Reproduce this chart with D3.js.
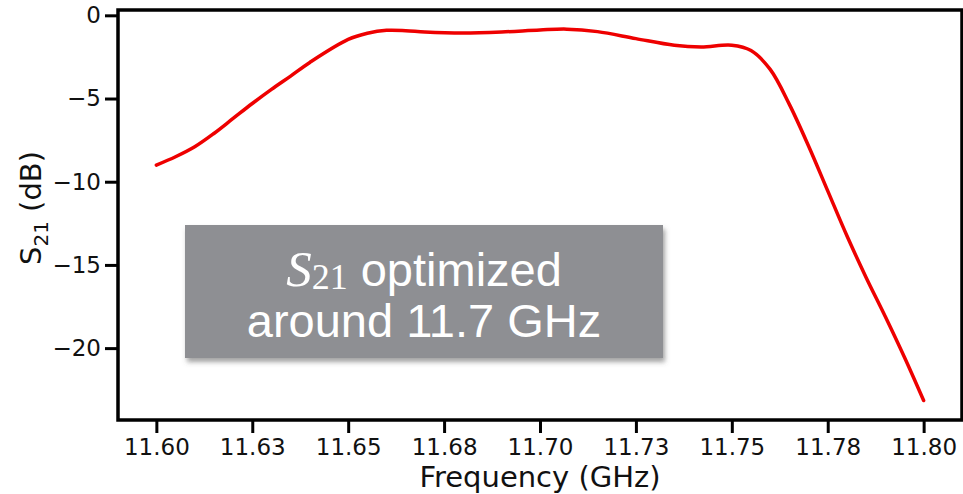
<!DOCTYPE html>
<html>
<head>
<meta charset="utf-8">
<script src="https://cdn.jsdelivr.net/npm/d3@7"></script>
<style>
  body { margin: 0; background: #fff; }
</style>
</head>
<body>
<div id="my_dataviz"></div>
<script>
// data
var freq = [11.600, 11.605, 11.610, 11.615, 11.620, 11.625, 11.630, 11.635, 11.640, 11.650,
            11.655, 11.660, 11.665, 11.670, 11.680, 11.690, 11.700, 11.707, 11.715, 11.725,
            11.735, 11.742, 11.750, 11.755, 11.760, 11.765, 11.770, 11.775, 11.780, 11.785,
            11.790, 11.795, 11.800];
var s21 = [-9.0, -8.5, -7.9, -7.1, -6.2, -5.3, -4.45, -3.65, -2.83, -1.45,
           -1.08, -0.9, -0.92, -1.0, -1.06, -1.0, -0.88, -0.83, -0.98, -1.4,
           -1.8, -1.9, -1.8, -2.12, -3.25, -5.35, -7.85, -10.55, -13.25, -15.75,
           -18.1, -20.55, -23.15];

var xTicks = [11.600, 11.625, 11.650, 11.675, 11.700, 11.725, 11.750, 11.775, 11.800];
var xTickLabels = ["11.60", "11.63", "11.65", "11.68", "11.70", "11.73", "11.75", "11.78", "11.80"];
var yTicks = [0, -5, -10, -15, -20];
var yTickLabels = ["0", "\u22125", "\u221210", "\u221215", "\u221220"];

// set the dimensions and margins of the graph
var margin = {top: 10, right: 1, bottom: 74, left: 118},
    width = 963 - margin.left - margin.right,
    height = 494 - margin.top - margin.bottom;

var svg = d3.select("#my_dataviz")
  .append("svg")
    .attr("width", 963)
    .attr("height", 494)
  .append("g")
    .attr("transform", "translate(" + margin.left + "," + margin.top + ")");

var defs = svg.append("defs");
var shadow = defs.append("filter")
    .attr("id", "shadow")
    .attr("x", "-10%").attr("y", "-10%")
    .attr("width", "130%").attr("height", "140%");
shadow.append("feDropShadow")
    .attr("dx", 2).attr("dy", 4)
    .attr("stdDeviation", 2.5)
    .attr("flood-color", "#555")
    .attr("flood-opacity", 0.55);

// X axis
var x = d3.scaleLinear()
  .domain([11.59, 11.81])
  .range([0, width]);
var xAxis = svg.append("g")
  .attr("transform", "translate(0," + height + ")")
  .call(d3.axisBottom(x)
    .tickValues(xTicks)
    .tickFormat(function(d, i) { return xTickLabels[i]; })
    .tickSize(13)
    .tickPadding(6));

// Y axis
var y = d3.scaleLinear()
  .domain([-24.32, 0.32])
  .range([height, 0]);
var yAxis = svg.append("g")
  .call(d3.axisLeft(y)
    .tickValues(yTicks)
    .tickFormat(function(d, i) { return yTickLabels[i]; })
    .tickSize(13)
    .tickPadding(4));

[xAxis, yAxis].forEach(function(a) {
  a.select(".domain").remove();
  a.selectAll(".tick line").attr("stroke", "#000").attr("stroke-width", 3);
  a.selectAll(".tick text")
    .attr("fill", "#111")
    .style("font-family", "DejaVu Sans")
    .style("font-size", "23px");
});

// frame
svg.append("rect")
  .attr("x", 0)
  .attr("y", 0)
  .attr("width", width)
  .attr("height", height)
  .attr("fill", "none")
  .attr("stroke", "#000")
  .attr("stroke-width", 3.5);

// the curve
var points = freq.map(function(f, i) { return {f: f, v: s21[i]}; });
svg.append("path")
  .datum(points)
  .attr("fill", "none")
  .attr("stroke", "#ee0000")
  .attr("stroke-width", 3.5)
  .attr("stroke-linejoin", "round")
  .attr("stroke-linecap", "round")
  .attr("d", d3.line()
    .curve(d3.curveCatmullRom.alpha(0.5))
    .x(function(d) { return x(d.f); })
    .y(function(d) { return y(d.v); }));

// x label
svg.append("text")
  .attr("x", width / 2)
  .attr("y", height + 67)
  .attr("text-anchor", "middle")
  .style("font-family", "DejaVu Sans")
  .style("font-size", "29px")
  .attr("fill", "#111")
  .text("Frequency (GHz)");

// y label
var ylab = svg.append("text")
  .attr("transform", "translate(" + (41 - margin.left) + "," + (208 - margin.top) + ") rotate(-90)")
  .attr("text-anchor", "middle")
  .style("font-family", "DejaVu Sans")
  .style("font-size", "29px")
  .attr("fill", "#111");
ylab.append("tspan").text("S");
ylab.append("tspan").attr("dy", 7).style("font-size", "20px").text("21");
ylab.append("tspan").attr("dy", -7).text(" (dB)");

// annotation box
var bx = 185 - margin.left, by = 225 - margin.top;
svg.append("rect")
  .attr("x", bx)
  .attr("y", by)
  .attr("width", 478)
  .attr("height", 133)
  .attr("fill", "#8e8f93")
  .attr("filter", "url(#shadow)");

var line1 = svg.append("text")
  .attr("x", bx + 239)
  .attr("y", by + 61)
  .attr("text-anchor", "middle")
  .attr("fill", "#fff")
  .style("font-family", "Liberation Sans");
line1.append("tspan")
  .style("font-family", "Liberation Serif")
  .style("font-style", "italic")
  .style("font-size", "51px")
  .text("S");
line1.append("tspan")
  .style("font-family", "Liberation Serif")
  .style("font-size", "36px")
  .attr("dy", 3)
  .text("21");
line1.append("tspan")
  .style("font-size", "47px")
  .attr("dy", -3)
  .text(" optimized");

svg.append("text")
  .attr("x", bx + 239)
  .attr("y", by + 112)
  .attr("text-anchor", "middle")
  .attr("fill", "#fff")
  .style("font-family", "Liberation Sans")
  .style("font-size", "47px")
  .text("around 11.7 GHz");
</script>
</body>
</html>
